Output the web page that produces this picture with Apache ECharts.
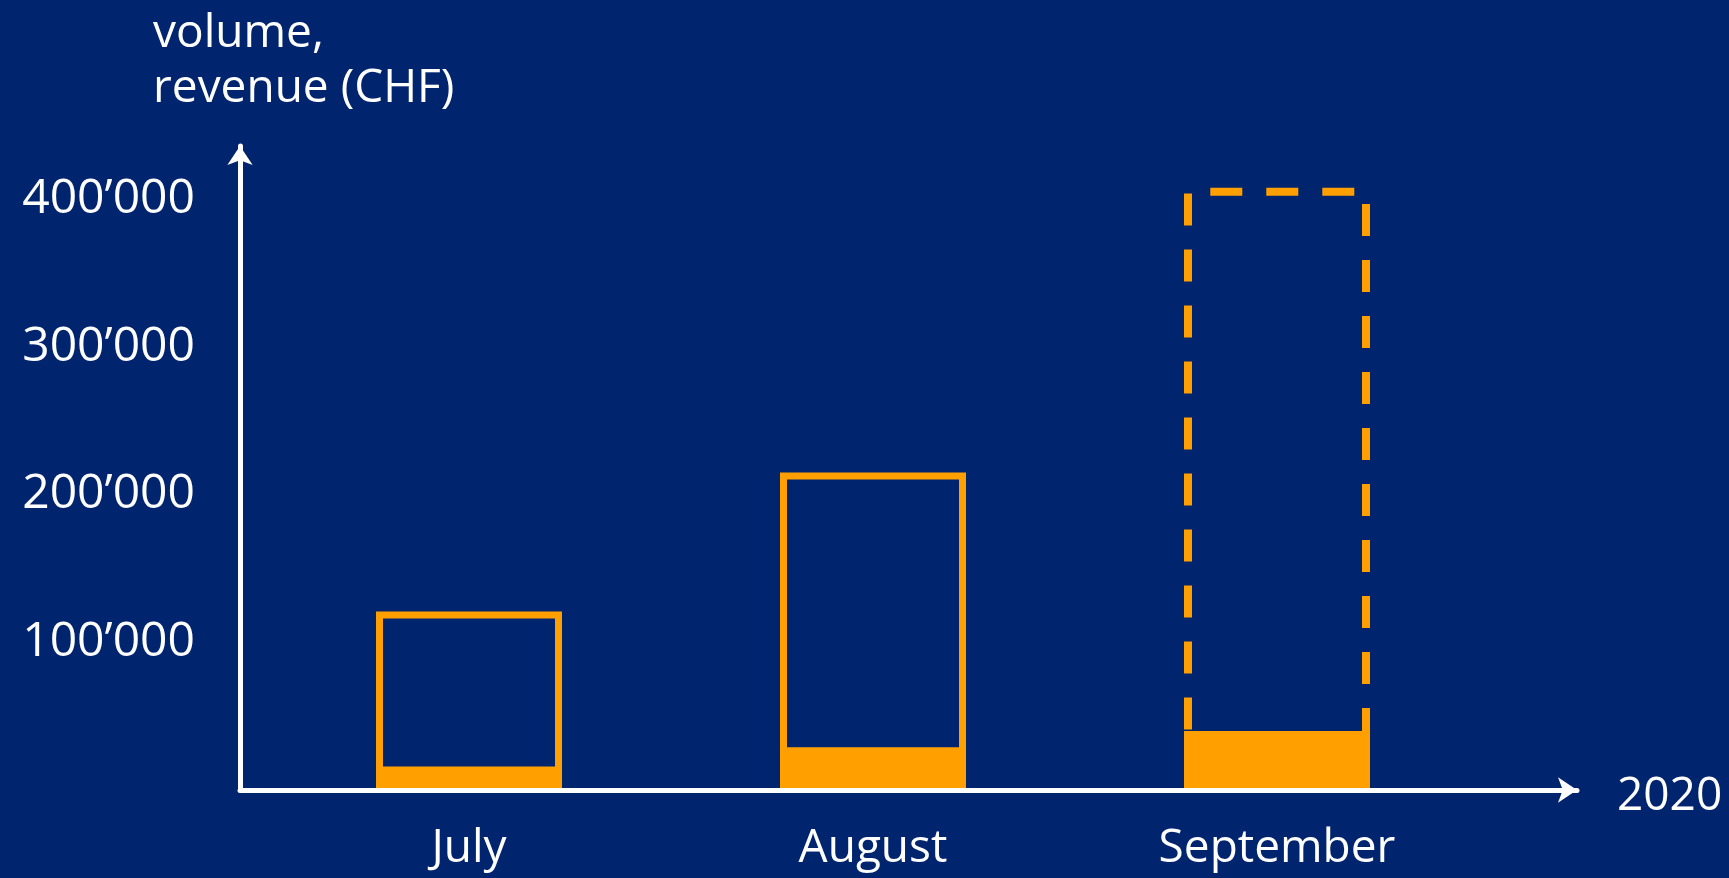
<!DOCTYPE html>
<html>
<head>
<meta charset="utf-8">
<script src="https://cdn.jsdelivr.net/npm/echarts@6/dist/echarts.min.js"></script>
<style>
html,body{margin:0;padding:0;background:#00246E;}
#c{width:1729px;height:878px;}
</style>
</head>
<body>
<div id="c"></div>
<script>
const months = ['July', 'August', 'September'];
const volumeOutline = [121000, 215000, 408000];
const revenueFilled = [16000, 29000, 40000];
const outlineDashed = [false, false, true];
const yAxisTitle = 'volume,\nrevenue (CHF)';
const xAxisTitle = '2020';

const BG = '#00246E';
const ORANGE = '#FFA000';
const WHITE = '#FFFFFF';
const FONT = 'Open Sans';

function fmt(v) {
  return String(v).replace(/\B(?=(\d{3})+(?!\d))/g, '\u2019');
}

const chart = echarts.init(document.getElementById('c'));
chart.setOption({
  backgroundColor: BG,
  animation: false,
  title: {
    text: yAxisTitle,
    left: 148,
    top: 1,
    textStyle: { color: WHITE, fontFamily: FONT, fontSize: 46, fontWeight: 'normal', lineHeight: 55 }
  },
  grid: [
    { left: 267, right: 250, top: 170, bottom: 88 },
    { left: 240, right: 152, top: 146, bottom: 88 }
  ],
  xAxis: [
    {
      type: 'category', gridIndex: 0, data: months,
      axisLine: { show: false }, axisTick: { show: false },
      axisLabel: { color: WHITE, fontFamily: FONT, fontSize: 46, margin: 36 }
    },
    {
      type: 'value', gridIndex: 1, min: 0, max: 1, z: 5,
      name: xAxisTitle, nameLocation: 'end', nameGap: 40,
      nameTextStyle: { color: WHITE, fontFamily: FONT, fontSize: 46, verticalAlign: 'top', lineHeight: 14 },
      axisLine: { show: true, lineStyle: { color: WHITE, width: 5 }, symbol: ['none', 'arrow'], symbolSize: [19, 19] },
      axisTick: { show: false }, axisLabel: { show: false }, splitLine: { show: false }
    }
  ],
  yAxis: [
    {
      type: 'value', gridIndex: 0, min: 0, max: 420000, interval: 100000,
      axisLine: { show: false }, axisTick: { show: false }, splitLine: { show: false },
      axisLabel: {
        color: WHITE, fontFamily: FONT, fontSize: 48, margin: 72,
        showMinLabel: false, showMaxLabel: false, formatter: fmt
      }
    },
    {
      type: 'value', gridIndex: 1, min: 0, max: 1, z: 5,
      axisLine: { show: true, lineStyle: { color: WHITE, width: 5 }, symbol: ['none', 'arrow'], symbolSize: [19, 19] },
      axisTick: { show: false }, axisLabel: { show: false }, splitLine: { show: false }
    }
  ],
  series: [
    {
      type: 'bar', xAxisIndex: 0, yAxisIndex: 0, barWidth: 186, barGap: '-100%',
      data: volumeOutline.map((v, i) => ({
        value: v,
        itemStyle: {
          color: 'rgba(0,0,0,0)', borderColor: ORANGE,
          borderWidth: outlineDashed[i] ? 8 : 7,
          borderType: outlineDashed[i] ? [32, 24] : 'solid'
        }
      }))
    },
    {
      type: 'bar', xAxisIndex: 0, yAxisIndex: 0, barWidth: 186, barGap: '-100%',
      itemStyle: { color: ORANGE },
      data: revenueFilled
    }
  ]
});
</script>
</body>
</html>
